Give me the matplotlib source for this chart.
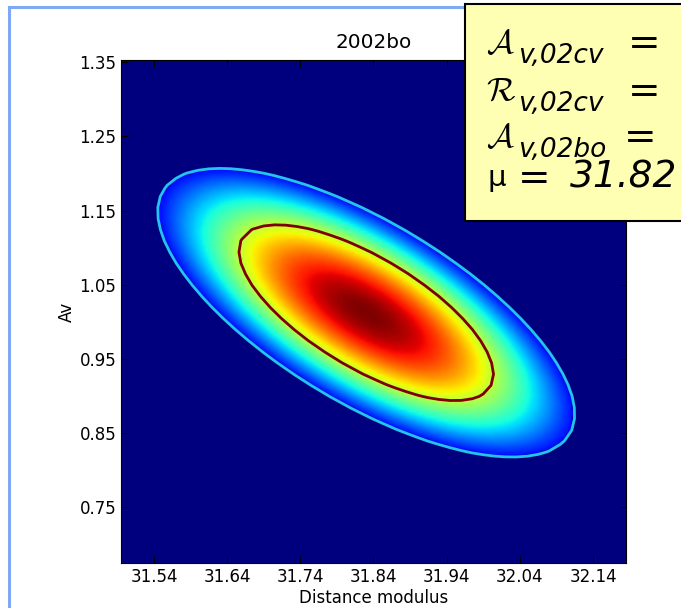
import numpy as np
import matplotlib
matplotlib.use('Agg')
import matplotlib.pyplot as plt
from matplotlib.patches import Rectangle
from matplotlib.lines import Line2D

# likelihood surface for 2002bo
mu_center = 31.83
av_center = 1.012
sigma_major = 0.130
sigma_minor = 0.0495
tilt_deg = 30.5                     # major axis falls to the right
chi2_levels = [2.30, 6.17]          # 68% / 95% contours
contour_colors = ['#800000', '#22c4f0']
shade_rate = 0.15
shade_floor = 0.305

mu_range = [31.495, 32.185]
av_range = [0.674, 1.353]
image_step = 0.004
contour_step = 0.015

xticks = [31.54, 31.64, 31.74, 31.84, 31.94, 32.04, 32.14]
yticks = [0.75, 0.85, 0.95, 1.05, 1.15, 1.25, 1.35]

box_letters = [r'$\mathcal{A}$', r'$\mathcal{R}$', r'$\mathcal{A}$']
box_subs = ['v,02cv', 'v,02cv', 'v,02bo']
mu_value = '31.82'


def chi2_grid(step):
    mu = np.arange(mu_range[0], mu_range[1] + step, step)
    av = np.arange(av_range[0], av_range[1] + step, step)
    M, A = np.meshgrid(mu, av)
    t = np.radians(tilt_deg)
    u = (M - mu_center) * np.cos(t) - (A - av_center) * np.sin(t)
    v = (M - mu_center) * np.sin(t) + (A - av_center) * np.cos(t)
    return M, A, (u / sigma_major)**2 + (v / sigma_minor)**2


plt.rcParams['font.size'] = 12

fig = plt.figure(figsize=(6.81, 6.08), dpi=100)
ax = fig.add_axes([0.1777, 0.074, 0.7415, 0.827])

M, A, chi2 = chi2_grid(image_step)
shade = (np.exp(-shade_rate * chi2) - shade_floor) / (1 - shade_floor)
shade[chi2 > chi2_levels[1]] = 0
ax.imshow(shade, extent=[M[0, 0], M[0, -1], A[0, 0], A[-1, 0]], origin='lower',
          aspect='auto', cmap='jet', vmin=0, vmax=1,
          interpolation='bilinear')

Mc, Ac, chi2c = chi2_grid(contour_step)
ax.contour(Mc, Ac, chi2c, levels=chi2_levels, colors=contour_colors,
           linewidths=2)

ax.set_xlim(mu_range)
ax.set_ylim(av_range)
ax.set_xticks(xticks)
ax.set_yticks(yticks)
ax.tick_params(direction='in', top=True, right=True, length=5, width=0.8)
ax.set_xlabel('Distance modulus', labelpad=2)
ax.set_ylabel('Av', labelpad=2)
ax.set_title('2002bo', fontsize=14.4, pad=9)

# slide frame
fig.add_artist(Line2D([8.5 / 681, 8.5 / 681], [0, 1 - 7 / 608],
                      transform=fig.transFigure, color='#80a8f6', lw=2.2))
fig.add_artist(Line2D([8.5 / 681, 470 / 681], [1 - 7 / 608, 1 - 7 / 608],
                      transform=fig.transFigure, color='#80a8f6', lw=2.2))

# annotation box
fig.add_artist(Rectangle((465 / 681, 1 - 221 / 608), 0.4, 217 / 608,
                         transform=fig.transFigure, facecolor='#ffffb4',
                         edgecolor='black', lw=1.5, zorder=5))


def px(x, y):
    return x / 681, 1 - y / 608


letter_base = [53, 100, 147]
sub_base = [63, 111, 157]
eq_base = [55, 103, 149]
eq_x = [628, 628, 624]
for i in range(3):
    fig.text(*px(486, letter_base[i]), box_letters[i], fontsize=24,
             va='baseline', math_fontfamily='cm', zorder=6)
    fig.text(*px(518, sub_base[i]), box_subs[i], fontsize=19,
             style='italic', va='baseline', zorder=6)
    fig.text(*px(eq_x[i], eq_base[i]), '=', fontsize=28, va='baseline', zorder=6)
fig.text(*px(488, 186), 'μ', fontsize=21, va='baseline', zorder=6)
fig.text(*px(518, 190), '=', fontsize=28, va='baseline', zorder=6)
fig.text(*px(570, 187), mu_value, fontsize=27, style='italic',
         va='baseline', zorder=6)

fig.savefig('out.png', dpi=100)
